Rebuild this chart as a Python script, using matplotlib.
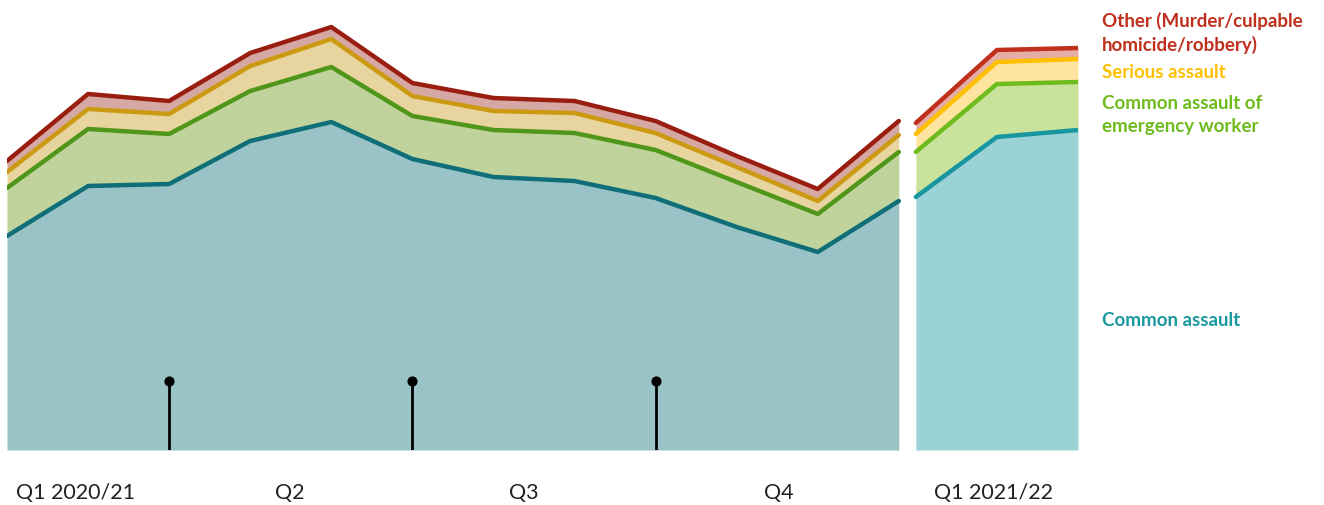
import numpy as np
import matplotlib
matplotlib.use('Agg')
import matplotlib.pyplot as plt

# monthly values, Apr 2020 - Mar 2021 and Apr - Jun 2021
common_20 = [214, 264, 266, 309, 328, 291, 273, 269, 252, 223, 198, 249]
emergency_20 = [48, 57, 50, 50, 55, 43, 47, 48, 48, 45, 38, 49]
serious_20 = [16, 20, 20, 25, 28, 20, 19, 20, 17, 15, 13, 17]
other_20 = [11, 15, 13, 13, 12, 13, 13, 12, 12, 11, 12, 14]

common_21 = [253, 313, 320]
emergency_21 = [45, 53, 48]
serious_21 = [18, 22, 23]
other_21 = [11, 12, 11]

quarter_labels = ['Q1 2020/21', 'Q2', 'Q3', 'Q4', 'Q1 2021/22']
quarter_pos = [0.84, 3.49, 6.38, 9.52, 12.17]
divider_pos = [2, 5, 8]
divider_height = 69

series_labels = ['Common assault', 'Common assault of\nemergency worker',
                 'Serious assault', 'Other (Murder/culpable\nhomicide/robbery)']

# muted colours for 2020/21, bright ones for 2021/22
fill_old = ['#99c3c6', '#c0d39c', '#e8d49e', '#d6a8a3']
line_old = ['#0f6e78', '#4f961a', '#cc9a12', '#9a1e10']
fill_new = ['#9ad2d6', '#c9e39c', '#fee49e', '#e5ada6']
line_new = ['#1796a0', '#6dbb1c', '#ffc000', '#c0301c']
text_col = ['#1a979f', '#6dbb1c', '#ffc000', '#c0301c']


def draw_stack(ax, x, layers, fills, lines):
    base = np.zeros(len(x))
    for vals, fc in zip(layers, fills):
        top = base + np.array(vals)
        ax.fill_between(x, base, top, color=fc, lw=0)
        base = top
    base = np.zeros(len(x))
    for vals, lc in zip(layers, lines):
        base = base + np.array(vals)
        ax.plot(x, base, color=lc, lw=3.2, solid_capstyle='round',
                solid_joinstyle='round')


fig = plt.figure(figsize=(13.24, 5.06), dpi=100)
ax = fig.add_axes([7 / 1324, 1 - 451 / 506, (1078 - 7) / 1324, 451 / 506])

x_old = np.arange(12)
x_new = np.arange(3) + 11.21
draw_stack(ax, x_old, [common_20, emergency_20, serious_20, other_20], fill_old, line_old)
draw_stack(ax, x_new, [common_21, emergency_21, serious_21, other_21], fill_new, line_new)

ax.vlines(divider_pos, 0, divider_height, color='black', lw=2)
ax.scatter(divider_pos, [divider_height] * 3, s=40, color='black', zorder=5)

ax.set_xlim(0, 13.21)
ax.set_ylim(0, 451)
ax.axis('off')

for lab, xp in zip(quarter_labels, quarter_pos):
    ax.text(xp, -42, lab, ha='center', va='center', fontsize=15.5,
            family='Lato', color='#222222', clip_on=False)

# series labels on the right
label_y = [451 - 321, 451 - 115, 451 - 72, 451 - 33]
for lab, yp, c in zip(series_labels, label_y, text_col):
    ax.text(13.5, yp, lab, ha='left', va='center', fontsize=13.5,
            family='Lato', fontweight='bold', color=c, clip_on=False,
            linespacing=1.4)

fig.savefig('out.png', dpi=100)
